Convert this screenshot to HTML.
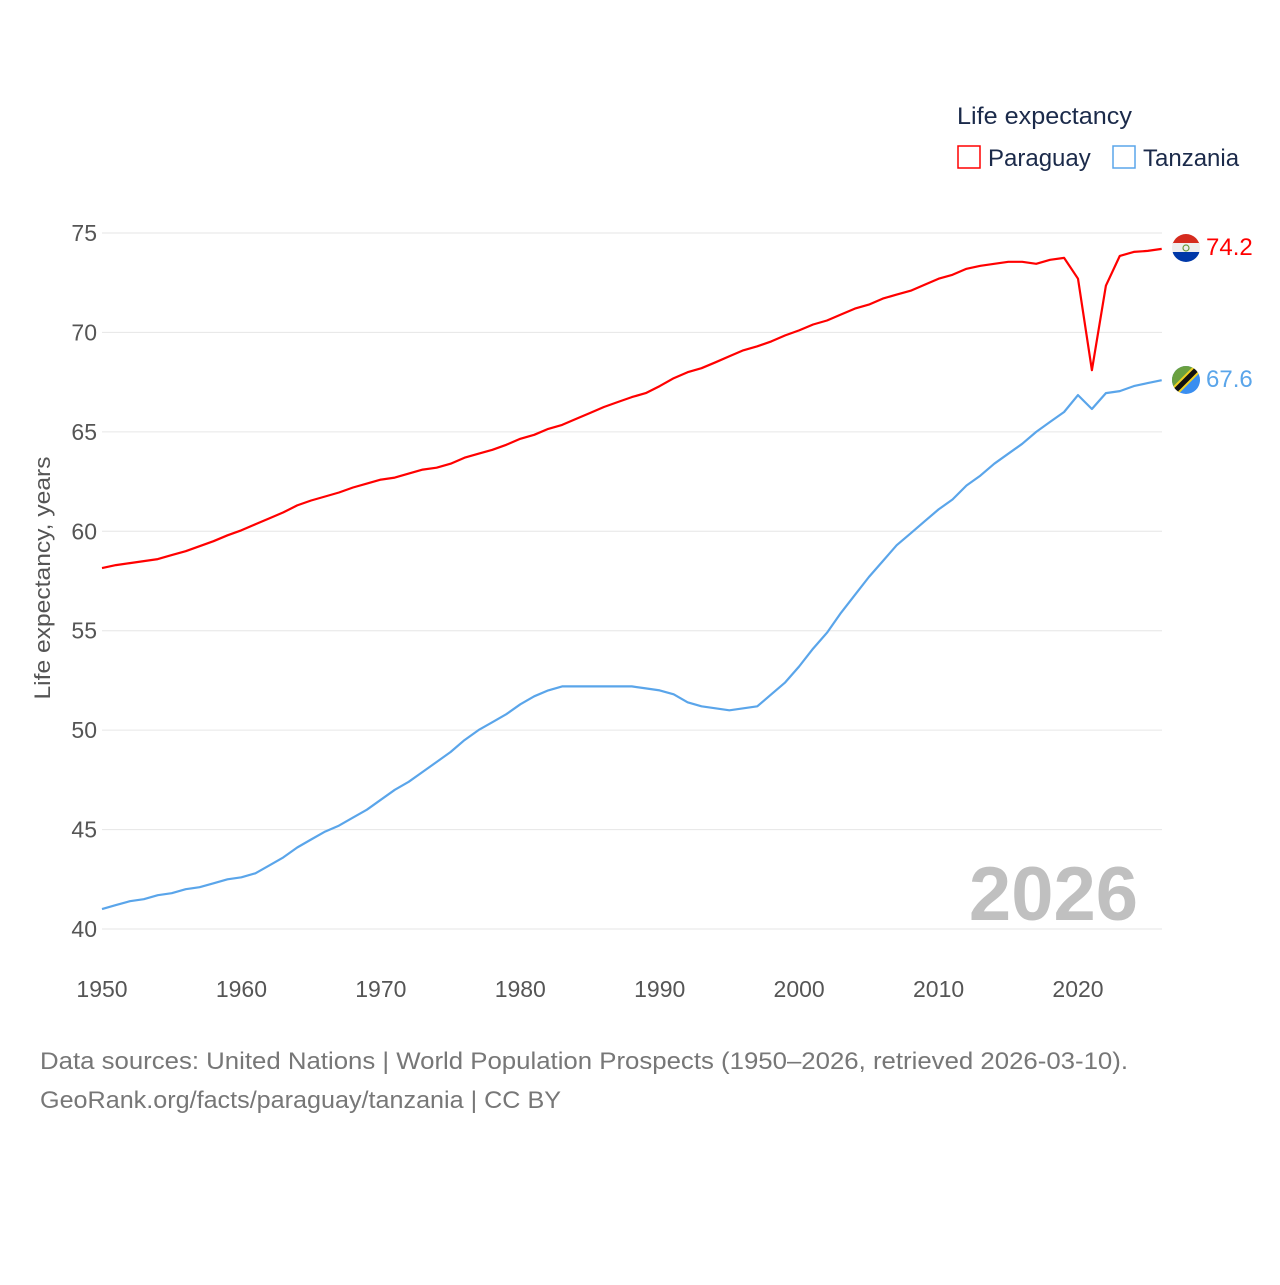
<!DOCTYPE html>
<html><head><meta charset="utf-8"><style>
body{margin:0;background:#fff;width:1280px;height:1280px;overflow:hidden;font-family:"Liberation Sans",sans-serif}
svg text{font-family:"Liberation Sans",sans-serif}
</style></head><body>
<svg id="chart" width="1280" height="1280">
<g id="grid"></g>
<g id="yticks"></g>
<g id="xticks"></g>
<text x="50" y="578" transform="rotate(-90 50 578)" text-anchor="middle" font-size="22" fill="#555" textLength="243" lengthAdjust="spacingAndGlyphs">Life expectancy, years</text>
<text x="1138" y="920" text-anchor="end" font-size="76" font-weight="bold" fill="#c0c0c0">2026</text>
<g id="series"></g>
<g>
<text x="957" y="124" font-size="24" fill="#1b2a4a" textLength="175" lengthAdjust="spacingAndGlyphs">Life expectancy</text>
<g><rect x="958" y="146" width="22" height="22" fill="none" stroke="#f00" stroke-width="1.5"/><text x="988" y="166" font-size="24" fill="#1b2a4a">Paraguay</text></g>
<g><rect x="1113" y="146" width="22" height="22" fill="none" stroke="#5aa5ea" stroke-width="1.5"/><text x="1143" y="166" font-size="24" fill="#1b2a4a">Tanzania</text></g>
</g>
<g>
<clipPath id="cp1"><circle cx="1186" cy="248" r="14"/></clipPath>
<g clip-path="url(#cp1)"><rect x="1172" y="234" width="28" height="10" fill="#d52b1e"/><rect x="1172" y="243" width="28" height="10" fill="#eee"/><rect x="1172" y="252" width="28" height="10" fill="#0038a8"/></g>
<circle cx="1186" cy="248" r="3" fill="none" stroke="#6a9a3a" stroke-width="1.2"/>
</g>
<g>
<clipPath id="cp2"><circle cx="1186" cy="380" r="14"/></clipPath>
<g clip-path="url(#cp2)"><rect x="1172" y="366" width="28" height="28" fill="#3a8ef0"/><polygon points="1172,366 1200,366 1172,394" fill="#6aa040"/><line x1="1170" y1="396" x2="1202" y2="364" stroke="#f0d020" stroke-width="9"/><line x1="1170" y1="396" x2="1202" y2="364" stroke="#111" stroke-width="5"/></g>
</g>
<text x="1206" y="255" font-size="24" fill="#f00">74.2</text>
<text x="1206" y="387" font-size="24" fill="#5aa5ea">67.6</text>
<g>
<text x="40" y="1069" font-size="24" fill="#777" textLength="1088" lengthAdjust="spacingAndGlyphs">Data sources: United Nations | World Population Prospects (1950–2026, retrieved 2026-03-10).</text>
<text x="40" y="1108" font-size="24" fill="#777" textLength="521" lengthAdjust="spacingAndGlyphs">GeoRank.org/facts/paraguay/tanzania | CC BY</text>
</g>
</svg>
<script>
const years=[];for(let y=1950;y<=2026;y++)years.push(y);
const paraguay=[58.15,58.3,58.4,58.5,58.6,58.8,59.0,59.25,59.5,59.8,60.05,60.35,60.65,60.95,61.3,61.55,61.75,61.95,62.2,62.4,62.6,62.7,62.9,63.1,63.2,63.4,63.7,63.9,64.1,64.35,64.65,64.85,65.15,65.35,65.65,65.95,66.25,66.5,66.75,66.95,67.3,67.7,68.0,68.2,68.5,68.8,69.1,69.3,69.55,69.85,70.1,70.4,70.6,70.9,71.2,71.4,71.7,71.9,72.1,72.4,72.7,72.9,73.2,73.35,73.45,73.55,73.55,73.45,73.65,73.75,72.7,68.1,72.35,73.85,74.05,74.1,74.2];
const tanzania=[41.0,41.2,41.4,41.5,41.7,41.8,42.0,42.1,42.3,42.5,42.6,42.8,43.2,43.6,44.1,44.5,44.9,45.2,45.6,46.0,46.5,47.0,47.4,47.9,48.4,48.9,49.5,50.0,50.4,50.8,51.3,51.7,52.0,52.2,52.2,52.2,52.2,52.2,52.2,52.1,52.0,51.8,51.4,51.2,51.1,51.0,51.1,51.2,51.8,52.4,53.2,54.1,54.9,55.9,56.8,57.7,58.5,59.3,59.9,60.5,61.1,61.6,62.3,62.8,63.4,63.9,64.4,65.0,65.5,66.0,66.85,66.15,66.95,67.05,67.3,67.45,67.6];
const yTicks=[40,45,50,55,60,65,70,75];
const xTicks=[1950,1960,1970,1980,1990,2000,2010,2020];
const X=y=>102+(y-1950)*(976/70);
const Y=v=>929-(v-40)*(696/35);
const NS='http://www.w3.org/2000/svg';
function mk(tag,attrs,parent){const e=document.createElementNS(NS,tag);for(const k in attrs)e.setAttribute(k,attrs[k]);parent.appendChild(e);return e;}
const grid=document.getElementById('grid'),yt=document.getElementById('yticks'),xt=document.getElementById('xticks'),ser=document.getElementById('series');
yTicks.forEach(v=>{
 const l=mk('line',{x1:102,x2:1162,y1:Y(v),y2:Y(v),stroke:'#e6e6e6','stroke-width':1},grid);
 
 
 const t=mk('text',{x:97,y:Y(v)+8,'text-anchor':'end','font-size':23,fill:'#555'},yt);
 t.textContent=v;
 
 
});
xTicks.forEach(v=>{
 const t=mk('text',{x:X(v),y:997,'text-anchor':'middle','font-size':23,fill:'#555'},xt);
 t.textContent=v;
 
 
});
[[paraguay,'#f00','paraguay-line'],[tanzania,'#5aa5ea','tanzania-line']].forEach(([d,c,n])=>{
 const p=mk('path',{d:d.map((v,i)=>(i?'L':'M')+X(years[i]).toFixed(1)+','+Y(v).toFixed(1)).join(''),fill:'none',stroke:c,'stroke-width':2.2,'stroke-linejoin':'round'},ser);
 
 
});
</script>
</body></html>
